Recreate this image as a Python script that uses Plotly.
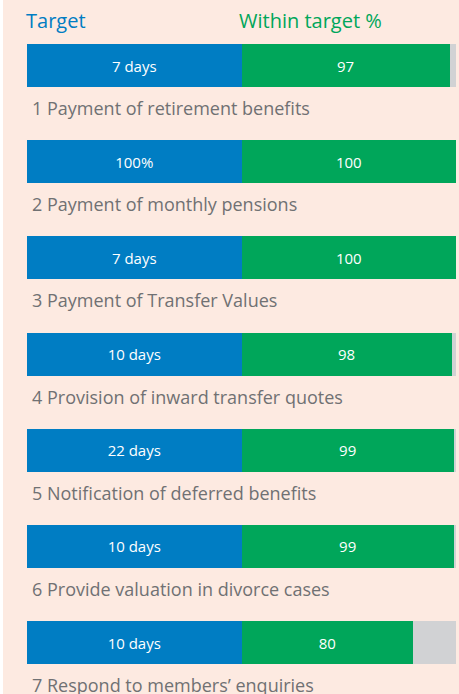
import plotly.graph_objects as go

# Data
services = [
    "1 Payment of retirement benefits",
    "2 Payment of monthly pensions",
    "3 Payment of Transfer Values",
    "4 Provision of inward transfer quotes",
    "5 Notification of deferred benefits",
    "6 Provide valuation in divorce cases",
    "7 Respond to members\u2019 enquiries",
]
targets = ["7 days", "100%", "7 days", "10 days", "22 days", "10 days", "10 days"]
within_target_pct = [97, 100, 100, 98, 99, 99, 80]

BLUE = "#007DC3"
GREEN = "#00A65A"
GREY = "#D1D2D4"
BG = "#FDEAE1"
LABEL = "#707173"
FONT = "Century Gothic, Open Sans, sans-serif"

rows = list(range(len(services)))
target_span = [100] * len(services)
remainder = [100 - v for v in within_target_pct]

fig = go.Figure()
fig.add_trace(go.Bar(
    y=rows, x=target_span, orientation="h", marker=dict(color=BLUE, line=dict(width=0)),
    text=targets, textposition="inside", insidetextanchor="middle",
    textfont=dict(color="white", size=15, family=FONT), hoverinfo="skip",
))
fig.add_trace(go.Bar(
    y=rows, x=within_target_pct, orientation="h", marker=dict(color=GREEN, line=dict(width=0)),
    text=[str(v) for v in within_target_pct], textposition="inside", insidetextanchor="middle",
    textfont=dict(color="white", size=15, family=FONT), hoverinfo="skip",
))
fig.add_trace(go.Bar(
    y=rows, x=remainder, orientation="h", marker=dict(color=GREY, line=dict(width=0)),
    hoverinfo="skip",
))

row_px = 96.17
first_center_px = 65.5
H = 694
y_top = -first_center_px / row_px
y_bottom = (H - first_center_px) / row_px
label_offset = (108 - first_center_px) / row_px
header_y = (20 - first_center_px) / row_px

annotations = []
for i, s in enumerate(services):
    annotations.append(dict(
        x=0, y=i + label_offset, xref="x", yref="y", text=s, showarrow=False,
        xanchor="left", yanchor="middle", xshift=3,
        font=dict(size=18, color=LABEL, family=FONT),
    ))
annotations.append(dict(x=0, y=header_y, xref="x", yref="y", text="Target", showarrow=False,
                        xanchor="left", yanchor="middle", xshift=-3,
                        font=dict(size=20, color=BLUE, family=FONT)))
annotations.append(dict(x=100, y=header_y, xref="x", yref="y", text="Within target %", showarrow=False,
                        xanchor="left", yanchor="middle", xshift=-5,
                        font=dict(size=20, color=GREEN, family=FONT)))

fig.update_layout(
    width=459, height=694,
    margin=dict(l=27, r=3, t=0, b=0),
    barmode="stack", bargap=1 - 43 / row_px,
    showlegend=False,
    paper_bgcolor=BG, plot_bgcolor=BG,
    xaxis=dict(range=[0, 200], visible=False, fixedrange=True),
    yaxis=dict(range=[y_bottom, y_top], visible=False, fixedrange=True),
    annotations=annotations,
    uniformtext=dict(mode="show", minsize=15),
    shapes=[dict(type="rect", xref="paper", yref="paper", x0=-27 / 429, x1=-24 / 429,
                 y0=0, y1=1, fillcolor="white", line=dict(width=0), layer="below")],
)

fig.write_html("out.html")
